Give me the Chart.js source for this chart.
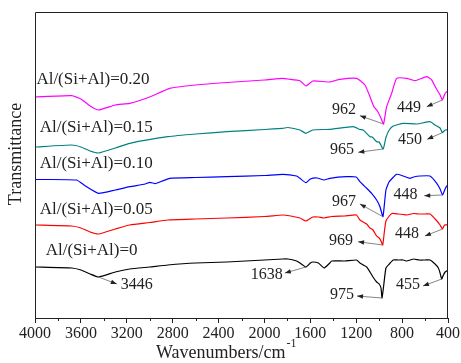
<!DOCTYPE html>
<html>
<head>
<meta charset="utf-8">
<script src="https://cdn.jsdelivr.net/npm/chart.js@4.4.0/dist/chart.umd.min.js"></script>
<style>
  body { margin: 0; background: #fff; }
  canvas { display: block; }
</style>
</head>
<body>
<canvas id="myChart" width="461" height="363"></canvas>
<script>
// FTIR spectra, curves offset vertically (arbitrary transmittance units)
const wn0 = [4000,3680,3600,3520,3446,3300,3174,3000,2842,2600,2328,2000,1840,1796,1720,1691,1638,1600,1579,1530,1480,1430,1415,1300,1197,1168,1109,1080,1054,1022,1000,984,975,960,941,912,877,834,790,760,730,700,650,600,557,513,484,469,455,440,425,400];
const t0  = [51,50,48,44,41,46,49,51,53,55,56,58,59,59,57,55,51,55,56,55,50,55,57,57,58,55,51,46,41,36,34,30,20,33,50,54,58,58,58,57,58,59,58,58,58,54,50,45,39,43,46,48];

const wn1 = [4000,3680,3600,3520,3446,3300,3174,3000,2842,2600,2328,2000,1840,1796,1691,1638,1579,1530,1480,1415,1300,1197,1168,1109,1080,1054,1022,1000,984,969,955,941,912,889,834,790,760,700,650,600,557,504,469,448,430,400];
const t1  = [93,92,90,86,84,89,93,95.5,98,99,100,101.5,103,102.5,100,97,101,101,100,101.5,102,103,98,94,90,88,82,80,77,73,86,97,102,104.5,104,103.5,103,104.5,104,104,104,98,93,89,93,93];

const wn2 = [4000,3639,3560,3446,3300,3174,3040,2999,2960,2941,2825,2600,2328,2000,1840,1720,1691,1638,1600,1540,1480,1430,1284,1200,1168,1109,1066,1022,993,967,941,912,848,790,732,700,644,557,498,469,448,425,411,400];
const t2  = [138.5,138,132,124.7,128,131.3,134,135.7,134.5,134.7,139.7,140.5,141.3,142.5,143.7,142,139.7,135.3,139,140,138,139.7,141.3,141,136.3,129.7,124.7,118,111.3,101.3,128,136.3,143.7,142,139.7,141,142,142,134.7,129,123,129,132,132];

const wn3 = [4000,3680,3600,3520,3446,3300,3174,2842,2600,2328,2000,1840,1796,1691,1638,1579,1430,1227,1168,1139,1080,1060,1022,1000,965,941,912,877,790,673,557,513,469,450,425,400];
const t3  = [171,173,171,167,165,170,174.7,181.3,184,186.3,188.5,189.7,190.5,188,184.7,188,188.7,191.3,188.5,188,181.3,181,176.3,176,169,180.5,188,192,194.7,194,196.3,193,190,185.3,188,188];

const wn4 = [4000,3680,3600,3520,3446,3300,3174,3000,2825,2600,2328,2000,1840,1796,1691,1638,1579,1430,1343,1197,1124,1080,1046,1011,984,962,935,891,848,760,688,586,542,504,469,449,425,400];
const t4  = [221,222.3,219,212,208,213,214.7,221,229.7,233,235.5,238,239.7,239,237.3,232,237,236,238.7,239.7,233,221.3,211.3,206.3,199.7,194,211.3,224.7,239.7,239.7,237.3,241.3,238,229.7,223,218,224.7,227.3];

const seriesNames = ['Al/(Si+Al)=0', 'Al/(Si+Al)=0.05', 'Al/(Si+Al)=0.10', 'Al/(Si+Al)=0.15', 'Al/(Si+Al)=0.20'];
const seriesColors = ['#000000', '#ff0000', '#0000ff', '#008080', '#ff00ff'];
const xTicks = [4000,3600,3200,2800,2400,2000,1600,1200,800,400];

// label anchors in data units [wavenumber, value]
const nameAnchors = [[3907,67.3],[3959,108],[3959,154],[3959,190],[3988,238]];
// peak labels: series index, peak wavenumber, text anchor, arrow head
const peaks = [
  {s:0, wn:3446, text:[3112,33],   head:[3287,34]},
  {s:0, wn:1638, text:[1979,43.7], head:[1822,45]},
  {s:0, wn:975,  text:[1324,23],   head:[1193,22]},
  {s:0, wn:455,  text:[749,33],    head:[618,32]},
  {s:1, wn:969,  text:[1333,77],   head:[1184,76.3]},
  {s:1, wn:448,  text:[758,84],    head:[601,82]},
  {s:2, wn:967,  text:[1307,116.3],head:[1168,114]},
  {s:2, wn:448,  text:[771,123],   head:[607,122.3]},
  {s:3, wn:965,  text:[1325,168],  head:[1182,165.7]},
  {s:3, wn:450,  text:[732,178],   head:[581,178.7]},
  {s:4, wn:962,  text:[1307,208.7],head:[1168,202.3]},
  {s:4, wn:449,  text:[740,210.7], head:[586,211.3]}
];

const allWn = [wn0, wn1, wn2, wn3, wn4];
const allT = [t0, t1, t2, t3, t4];

function valueAt(s, w) {
  const xs = allWn[s], ys = allT[s];
  for (let i = 0; i < xs.length - 1; i++) {
    if (w <= xs[i] && w >= xs[i+1]) {
      const f = (xs[i] - w) / (xs[i] - xs[i+1]);
      return ys[i] + f * (ys[i+1] - ys[i]);
    }
  }
  return ys[ys.length - 1];
}

const serif = "'Liberation Serif', 'Times New Roman', serif";

const extras = {
  id: 'extras',
  afterDraw(chart) {
    const ctx = chart.ctx, a = chart.chartArea;
    const xs = chart.scales.x, ys = chart.scales.y;
    ctx.save();
    // frame
    ctx.strokeStyle = '#222';
    ctx.lineWidth = 1;
    ctx.beginPath();
    ctx.moveTo(a.left + 0.5, a.bottom);
    ctx.lineTo(a.left + 0.5, a.top + 0.5);
    ctx.lineTo(a.right - 0.5, a.top + 0.5);
    ctx.lineTo(a.right - 0.5, a.bottom);
    ctx.stroke();
    // minor ticks
    ctx.beginPath();
    for (let v = 3800; v > 400; v -= 400) {
      const px = Math.round(xs.getPixelForValue(v)) + 0.5;
      ctx.moveTo(px, a.bottom);
      ctx.lineTo(px, a.bottom + 3);
    }
    ctx.stroke();

    // tick labels
    ctx.fillStyle = '#222';
    ctx.font = '16px ' + serif;
    ctx.textAlign = 'center';
    ctx.textBaseline = 'middle';
    xTicks.forEach(v => ctx.fillText(String(v), xs.getPixelForValue(v), a.bottom + 16));

    // axis titles
    ctx.font = '18px ' + serif;
    ctx.textAlign = 'left';
    const main = 'Wavenumbers/cm';
    const mw = ctx.measureText(main).width;
    const tx = a.left + 121;
    ctx.fillText(main, tx, 353);
    ctx.font = '12px ' + serif;
    ctx.fillText('-1', tx + mw + 1, 344);

    ctx.save();
    ctx.translate(16.5, 154);
    ctx.rotate(-Math.PI / 2);
    ctx.font = '18px ' + serif;
    ctx.textAlign = 'center';
    ctx.fillText('Transmittance', 0, 0);
    ctx.restore();

    // series names
    ctx.font = '17px ' + serif;
    ctx.textAlign = 'left';
    nameAnchors.forEach((p, i) => {
      ctx.fillText(seriesNames[i], xs.getPixelForValue(p[0]), ys.getPixelForValue(p[1]));
    });

    // peak labels with arrows
    ctx.font = '16px ' + serif;
    ctx.textAlign = 'center';
    peaks.forEach(p => {
      const x0 = xs.getPixelForValue(p.wn), y0 = ys.getPixelForValue(valueAt(p.s, p.wn));
      const x1 = xs.getPixelForValue(p.head[0]), y1 = ys.getPixelForValue(p.head[1]);
      ctx.strokeStyle = '#666';
      ctx.lineWidth = 0.8;
      ctx.beginPath();
      ctx.moveTo(x0, y0);
      ctx.lineTo(x1, y1);
      ctx.stroke();
      const ang = Math.atan2(y1 - y0, x1 - x0);
      const L = 6, W = 2.2;
      ctx.fillStyle = '#222';
      ctx.beginPath();
      ctx.moveTo(x1, y1);
      ctx.lineTo(x1 - L * Math.cos(ang) + W * Math.sin(ang), y1 - L * Math.sin(ang) - W * Math.cos(ang));
      ctx.lineTo(x1 - L * Math.cos(ang) - W * Math.sin(ang), y1 - L * Math.sin(ang) + W * Math.cos(ang));
      ctx.closePath();
      ctx.fill();
      ctx.fillText(String(p.wn), xs.getPixelForValue(p.text[0]), ys.getPixelForValue(p.text[1]));
    });
    ctx.restore();
  }
};

const datasets = allWn.map((w, i) => ({
  label: seriesNames[i],
  data: w.map((x, j) => ({x: x, y: allT[i][j]})),
  borderColor: seriesColors[i],
  borderWidth: 1.2,
  pointRadius: 0,
  tension: 0.15,
  fill: false
}));

new Chart(document.getElementById('myChart'), {
  type: 'line',
  data: { datasets: datasets },
  options: {
    responsive: false,
    animation: false,
    devicePixelRatio: 1,
    layout: { padding: { left: 35, right: 13, top: 12, bottom: 0 } },
    plugins: { legend: { display: false }, tooltip: { enabled: false } },
    scales: {
      x: {
        type: 'linear',
        min: 400, max: 4000, reverse: true,
        afterFit: s => { s.height = 45; },
        border: { display: true, color: '#222', width: 1 },
        grid: {
          display: true, drawOnChartArea: false, drawTicks: true, tickLength: 5,
          tickColor: c => (c.tick && xTicks.includes(c.tick.value)) ? '#222' : 'rgba(0,0,0,0)'
        },
        ticks: { stepSize: 200, autoSkip: false, maxRotation: 0, display: false }
      },
      y: { display: false, min: 0, max: 306 }
    }
  },
  plugins: [extras]
});
</script>
</body>
</html>
